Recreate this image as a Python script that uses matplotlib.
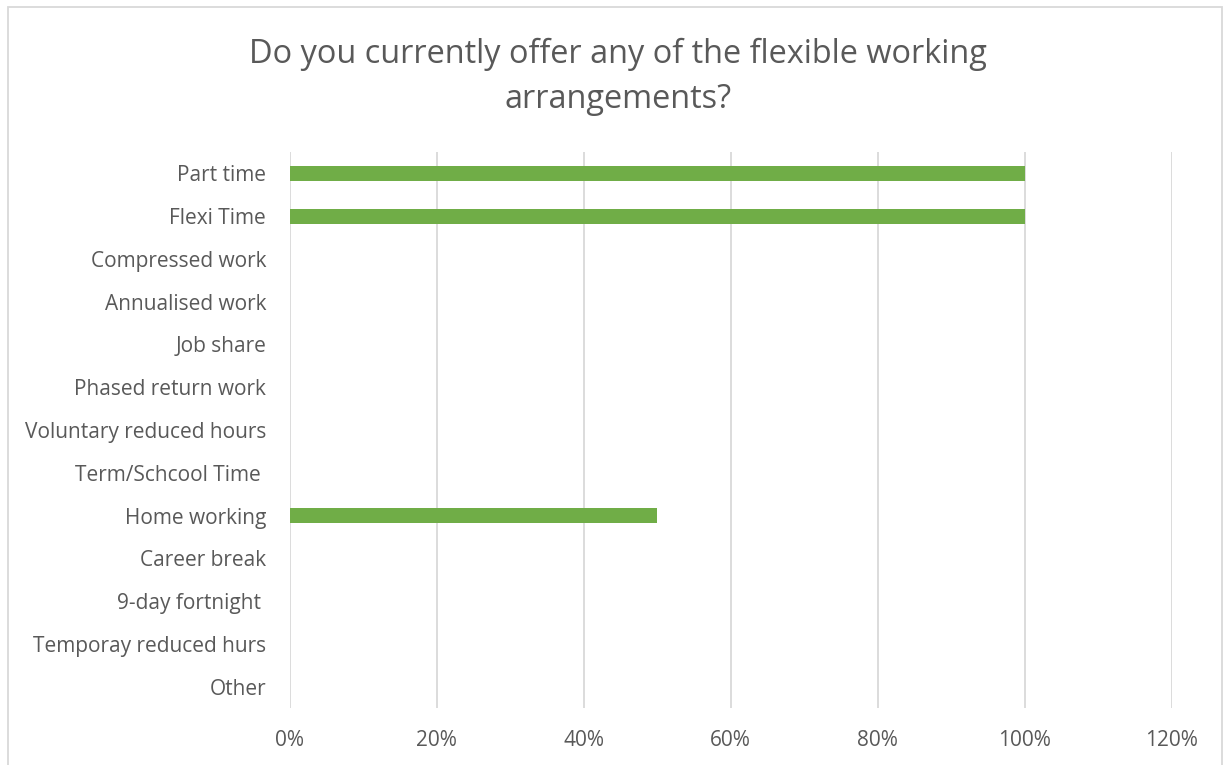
import matplotlib
matplotlib.use("Agg")
import matplotlib.pyplot as plt
from matplotlib.patches import Rectangle
from matplotlib.ticker import FuncFormatter, MultipleLocator

categories = ["Part time", "Flexi Time", "Compressed work", "Annualised work", "Job share",
              "Phased return work", "Voluntary reduced hours", "Term/Schcool Time ",
              "Home working", "Career break", "9-day fortnight ", "Temporay reduced hurs", "Other"]
values = [1.0, 1.0, 0, 0, 0, 0, 0, 0, 0.5, 0, 0, 0, 0]
title = "Do you currently offer any of the flexible working\narrangements?"

plt.rcParams['font.family'] = ['Open Sans', 'DejaVu Sans']
W, H = 1226, 765
fig = plt.figure(figsize=(W / 100, H / 100), dpi=100)
ax = fig.add_axes([289.7 / W, 1 - 708 / H, (1171.7 - 289.7) / W, (708 - 152) / H])

y = list(range(len(categories)))
ax.barh(y, values, height=0.35, color="#70AD47", zorder=3)
ax.set_ylim(len(categories) - 0.5, -0.5)
ax.set_yticks(y)
ax.set_yticklabels(categories)
ax.set_xlim(0, 1.2)
ax.xaxis.set_major_locator(MultipleLocator(0.2))
ax.xaxis.set_major_formatter(FuncFormatter(lambda v, p: f"{v*100:.0f}%"))
ax.grid(axis="x", color="#D9D9D9", linewidth=1.3, zorder=0)
for s in ax.spines.values():
    s.set_visible(False)
ax.tick_params(axis="both", length=0, labelsize=15, labelcolor="#595959")
ax.tick_params(axis="y", pad=17)
ax.tick_params(axis="x", pad=16)

fig.text(618 / W, 1 - 77 / H, title, ha="center", va="center", fontsize=23.4,
         color="#595959", linespacing=1.45)

border = Rectangle((7.5 / W, -0.05), (1222 - 7.5) / W, 1 - 7.5 / H + 0.05,
                   transform=fig.transFigure, fill=False, edgecolor="#D9D9D9",
                   linewidth=1.3, clip_on=False)
fig.patches.append(border)

fig.savefig("out.png", dpi=100)
